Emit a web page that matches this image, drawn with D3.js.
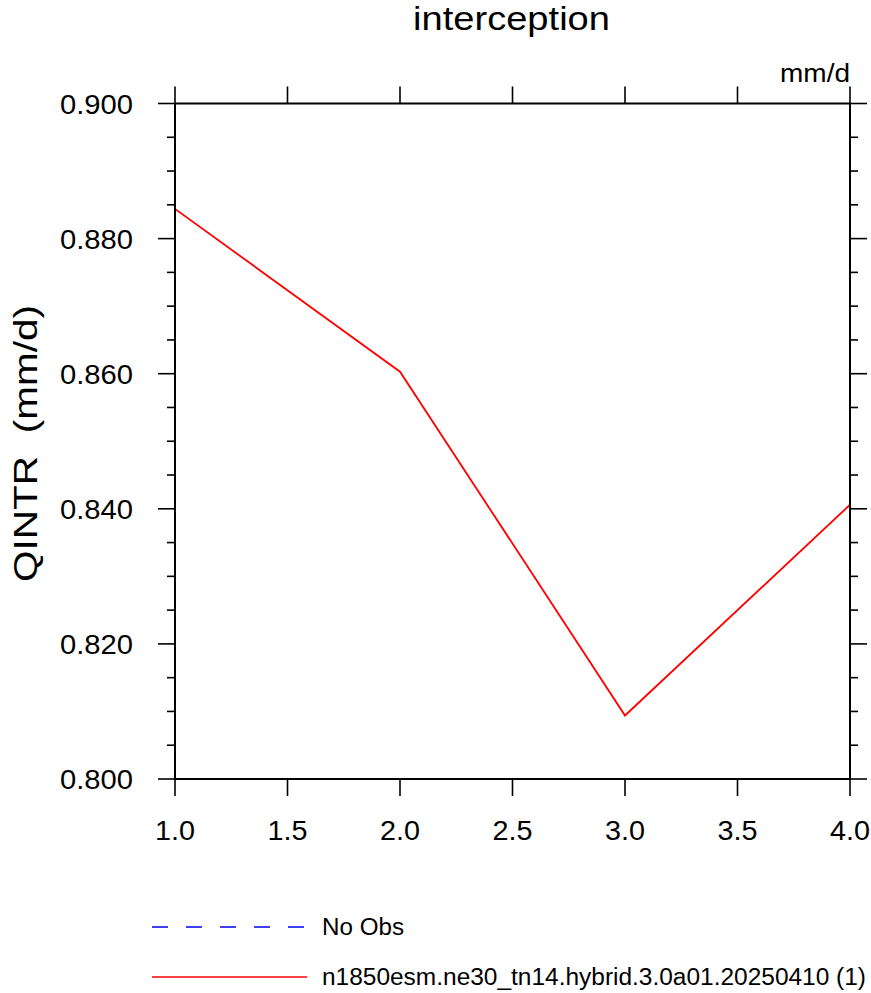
<!DOCTYPE html>
<html><head><meta charset="utf-8">
<script src="https://cdn.jsdelivr.net/npm/d3@7"></script>
<style>
html,body{margin:0;padding:0;background:#fff;}
svg text{font-family:"Liberation Sans",Arial,Helvetica,sans-serif;fill:#000;white-space:pre;}
</style></head><body>
<svg id="c" width="871" height="993"></svg>
<script>
const xValues = [1, 2, 3, 4];
const seriesValues = [0.8844, 0.8603, 0.8094, 0.8406];
const xTicks = [1.0, 1.5, 2.0, 2.5, 3.0, 3.5, 4.0];
const yTicks = [0.80, 0.82, 0.84, 0.86, 0.88, 0.90];
const yMinor = d3.range(0, 21).map(i => +(0.80 + i * 0.005).toFixed(3));
const titleText = "interception";
const yLabel = "QINTR  (mm/d)";
const unitsText = "mm/d";
const legendNames = ["No Obs", "n1850esm.ne30_tn14.hybrid.3.0a01.20250410 (1)"];

const svg = d3.select("#c");
const L = 175, R = 850, T = 103.5, B = 779;
const x = d3.scaleLinear().domain([1, 4]).range([L, R]);
const y = d3.scaleLinear().domain([0.80, 0.90]).range([B, T]);
const MAJ = 17, MIN = 8;

// data line
const line = d3.line().x((d, i) => x(xValues[i])).y(d => y(d));
svg.append("path").datum(seriesValues).attr("d", line)
  .attr("fill", "none").attr("stroke", "#ff0000").attr("stroke-width", 1.8);

// axes
const g = svg.append("g");
const ax = (x1,y1,x2,y2,w) => g.append("line").attr("x1",x1).attr("y1",y1).attr("x2",x2).attr("y2",y2)
  .attr("stroke","#000").attr("stroke-width",w);
ax(L, T, R, T, 2); ax(L, B, R, B, 2); ax(L, T, L, B, 2); ax(R, T, R, B, 2);
xTicks.forEach(t => {
  ax(x(t), B, x(t), B + MAJ, 1.6);
  ax(x(t), T, x(t), T - MAJ, 1.6);
  g.append("text").attr("x", x(t)).attr("y", 840).attr("text-anchor", "middle")
    .attr("font-size", 28).attr("textLength", 40).attr("lengthAdjust", "spacingAndGlyphs")
    .text(d3.format(".1f")(t));
});
yMinor.forEach(t => {
  const isMaj = yTicks.some(v => Math.abs(v - t) < 1e-9);
  const len = isMaj ? MAJ : MIN;
  ax(L - len, y(t), L, y(t), 1.6);
  ax(R, y(t), R + len, y(t), 1.6);
});
yTicks.forEach(t => {
  g.append("text").attr("x", 60).attr("y", y(t)).attr("dy", "0.36em")
    .attr("font-size", 28).attr("textLength", 73).attr("lengthAdjust", "spacingAndGlyphs")
    .text(d3.format(".3f")(t));
});

// titles
svg.append("text").attr("x", 413).attr("y", 30)
  .attr("font-size", 33).attr("textLength", 197).attr("lengthAdjust", "spacingAndGlyphs").text(titleText);
svg.append("text").attr("x", 780).attr("y", 82)
  .attr("font-size", 25).attr("textLength", 70).attr("lengthAdjust", "spacingAndGlyphs").text(unitsText);
svg.append("text").attr("transform", `translate(37,582) rotate(-90)`)
  .attr("font-size", 34).attr("textLength", 277).attr("lengthAdjust", "spacingAndGlyphs").text(yLabel);

// legend
const legY = [927, 977];
svg.append("line").attr("x1", 152).attr("x2", 304).attr("y1", legY[0]).attr("y2", legY[0])
  .attr("stroke", "#0000ee").attr("stroke-width", 1.5).attr("stroke-dasharray", "16,18");
svg.append("line").attr("x1", 152).attr("x2", 307).attr("y1", legY[1]).attr("y2", legY[1])
  .attr("stroke", "#ff0000").attr("stroke-width", 1.5);
const legW = [82, 544];
legendNames.forEach((n, i) => {
  svg.append("text").attr("x", 322).attr("y", legY[i]).attr("dy", "0.36em")
    .attr("font-size", 23).attr("textLength", legW[i]).attr("lengthAdjust", "spacingAndGlyphs").text(n);
});
</script></body></html>
